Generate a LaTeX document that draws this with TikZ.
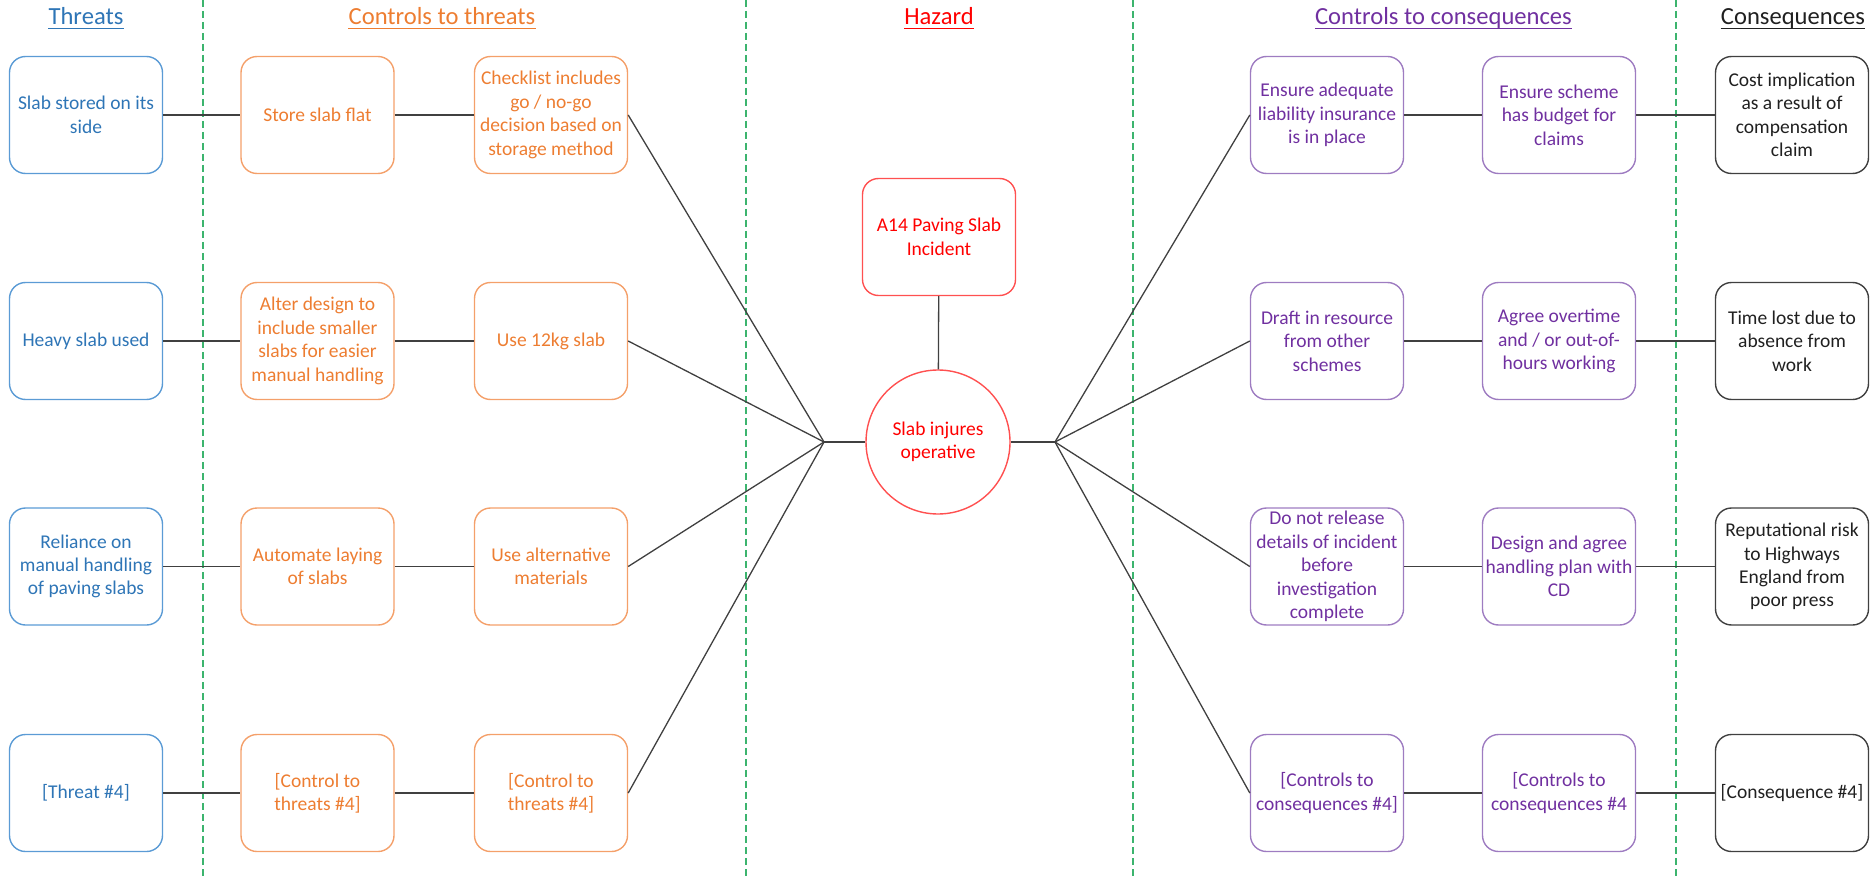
\documentclass[tikz,border=0pt]{standalone}
\usepackage{fontspec}
\setmainfont{Carlito}
\usetikzlibrary{shapes.geometric}
\definecolor{tblue}{HTML}{2E75B6}
\definecolor{tbluebd}{HTML}{5B9BD5}
\definecolor{torange}{HTML}{ED7D31}
\definecolor{torangebd}{HTML}{F4A06A}
\definecolor{tpurple}{HTML}{7030A0}
\definecolor{tpurplebd}{HTML}{9E7CC1}
\definecolor{tred}{HTML}{FF0000}
\definecolor{tredbd}{HTML}{FF5050}
\definecolor{tdark}{HTML}{202020}
\definecolor{tdarkbd}{HTML}{404040}
\definecolor{tgreen}{HTML}{3CB46E}
\definecolor{tline}{HTML}{404040}
\begin{document}
\begin{tikzpicture}[x=1pt,y=-1pt,
  box/.style={draw, rounded corners=16pt, minimum width=153pt, minimum height=117pt,
    line width=1.4pt, align=center, font=\fontsize{19.5}{23.4}\selectfont, inner sep=2pt},
  threat/.style={box, draw=tbluebd, text=tblue},
  ctrl/.style={box, draw=torangebd, text=torange},
  cctrl/.style={box, draw=tpurplebd, text=tpurple},
  conseq/.style={box, draw=tdarkbd, text=tdark},
  hazbox/.style={box, draw=tredbd, text=tred},
  top/.style={circle, draw=tredbd, text=tred, line width=1.4pt, minimum size=144pt,
    align=center, font=\fontsize{19.5}{23.4}\selectfont, inner sep=0pt},
  hdr/.style={font=\fontsize{24.6}{29}\selectfont, inner sep=0pt, anchor=base},
  conn/.style={draw=tline, line width=1.3pt},
  divider/.style={draw=tgreen, line width=1.4pt, dash pattern=on 7pt off 4pt},
  uline/.style={line width=1.2pt}
]
\useasboundingbox (0,0) rectangle (1873,877);

% dividers
\foreach \xx/\nm in {203/da, 746/db, 1133/dc, 1676/dd} {
  \coordinate (\nm top) at (\xx,0);
  \coordinate (\nm bot) at (\xx,877);
  \draw[divider] (\nm top) -- (\nm bot);
}

% headers
\node[hdr, text=tblue] (h1) at (86,25) {Threats};
\node[hdr, text=torange] (h2) at (442,25) {Controls to threats};
\node[hdr, text=tred] (h3) at (939,25) {Hazard};
\node[hdr, text=tpurple] (h4) at (1443.5,25) {Controls to consequences};
\node[hdr, text=tdark] (h5) at (1793,25) {Consequences};
\draw[uline, tblue] ([yshift=-3.5pt]h1.base west) -- ([yshift=-3.5pt]h1.base east);
\draw[uline, torange] ([yshift=-3.5pt]h2.base west) -- ([yshift=-3.5pt]h2.base east);
\draw[uline, tred] ([yshift=-3.5pt]h3.base west) -- ([yshift=-3.5pt]h3.base east);
\draw[uline, tpurple] ([yshift=-3.5pt]h4.base west) -- ([yshift=-3.5pt]h4.base east);
\draw[uline, tdark] ([yshift=-3.5pt]h5.base west) -- ([yshift=-3.5pt]h5.base east);

% threats
\node[threat] (t1) at (86,115) {Slab stored on its\\side};
\node[threat] (t2) at (86,341) {Heavy slab used};
\node[threat] (t3) at (86,566.5) {Reliance on\\manual handling\\of paving slabs};
\node[threat] (t4) at (86,793) {[Threat \#4]};

% controls to threats
\node[ctrl] (ca1) at (317.5,115) {Store slab flat};
\node[ctrl] (ca2) at (317.5,341) {Alter design to\\include smaller\\slabs for easier\\manual handling};
\node[ctrl] (ca3) at (317.5,566.5) {Automate laying\\of slabs};
\node[ctrl] (ca4) at (317.5,793) {[Control to\\threats \#4]};

\node[ctrl] (cb1) at (551,115) {Checklist includes\\go / no-go\\decision based on\\storage method};
\node[ctrl] (cb2) at (551,341) {Use 12kg slab};
\node[ctrl] (cb3) at (551,566.5) {Use alternative\\materials};
\node[ctrl] (cb4) at (551,793) {[Control to\\threats \#4]};

% hazard
\node[hazbox] (a14) at (939,237) {A14 Paving Slab\\Incident};
\node[top] (ev) at (938,442) {Slab injures\\operative};
\coordinate (jl) at (824,442);
\coordinate (jr) at (1055,442);

% controls to consequences
\node[cctrl] (da1) at (1327,115) {Ensure adequate\\liability insurance\\is in place};
\node[cctrl] (da2) at (1327,341) {Draft in resource\\from other\\schemes};
\node[cctrl] (da3) at (1327,566.5) {Do not release\\details of incident\\before\\investigation\\complete};
\node[cctrl] (da4) at (1327,793) {[Controls to\\consequences \#4]};

\node[cctrl] (db1) at (1559,115) {Ensure scheme\\has budget for\\claims};
\node[cctrl] (db2) at (1559,341) {Agree overtime\\and / or out-of-\\hours working};
\node[cctrl] (db3) at (1559,566.5) {Design and agree\\handling plan with\\CD};
\node[cctrl] (db4) at (1559,793) {[Controls to\\consequences \#4};

% consequences
\node[conseq] (e1) at (1792,115) {Cost implication\\as a result of\\compensation\\claim};
\node[conseq] (e2) at (1792,341) {Time lost due to\\absence from\\work};
\node[conseq] (e3) at (1792,566.5) {Reputational risk\\to Highways\\England from\\poor press};
\node[conseq] (e4) at (1792,793) {[Consequence \#4]};

% connectors
\foreach \i in {1,2,3,4} {
  \draw[conn] (t\i) -- (ca\i);
  \draw[conn] (ca\i) -- (cb\i);
  \draw[conn] (cb\i.east) -- (jl);
  \draw[conn] (jr) -- (da\i.west);
  \draw[conn] (da\i) -- (db\i);
  \draw[conn] (db\i) -- (e\i);
}
\draw[conn] (jl) -- (ev.west);
\draw[conn] (ev.east) -- (jr);
\draw[conn] (a14) -- (ev);
\end{tikzpicture}
\end{document}
